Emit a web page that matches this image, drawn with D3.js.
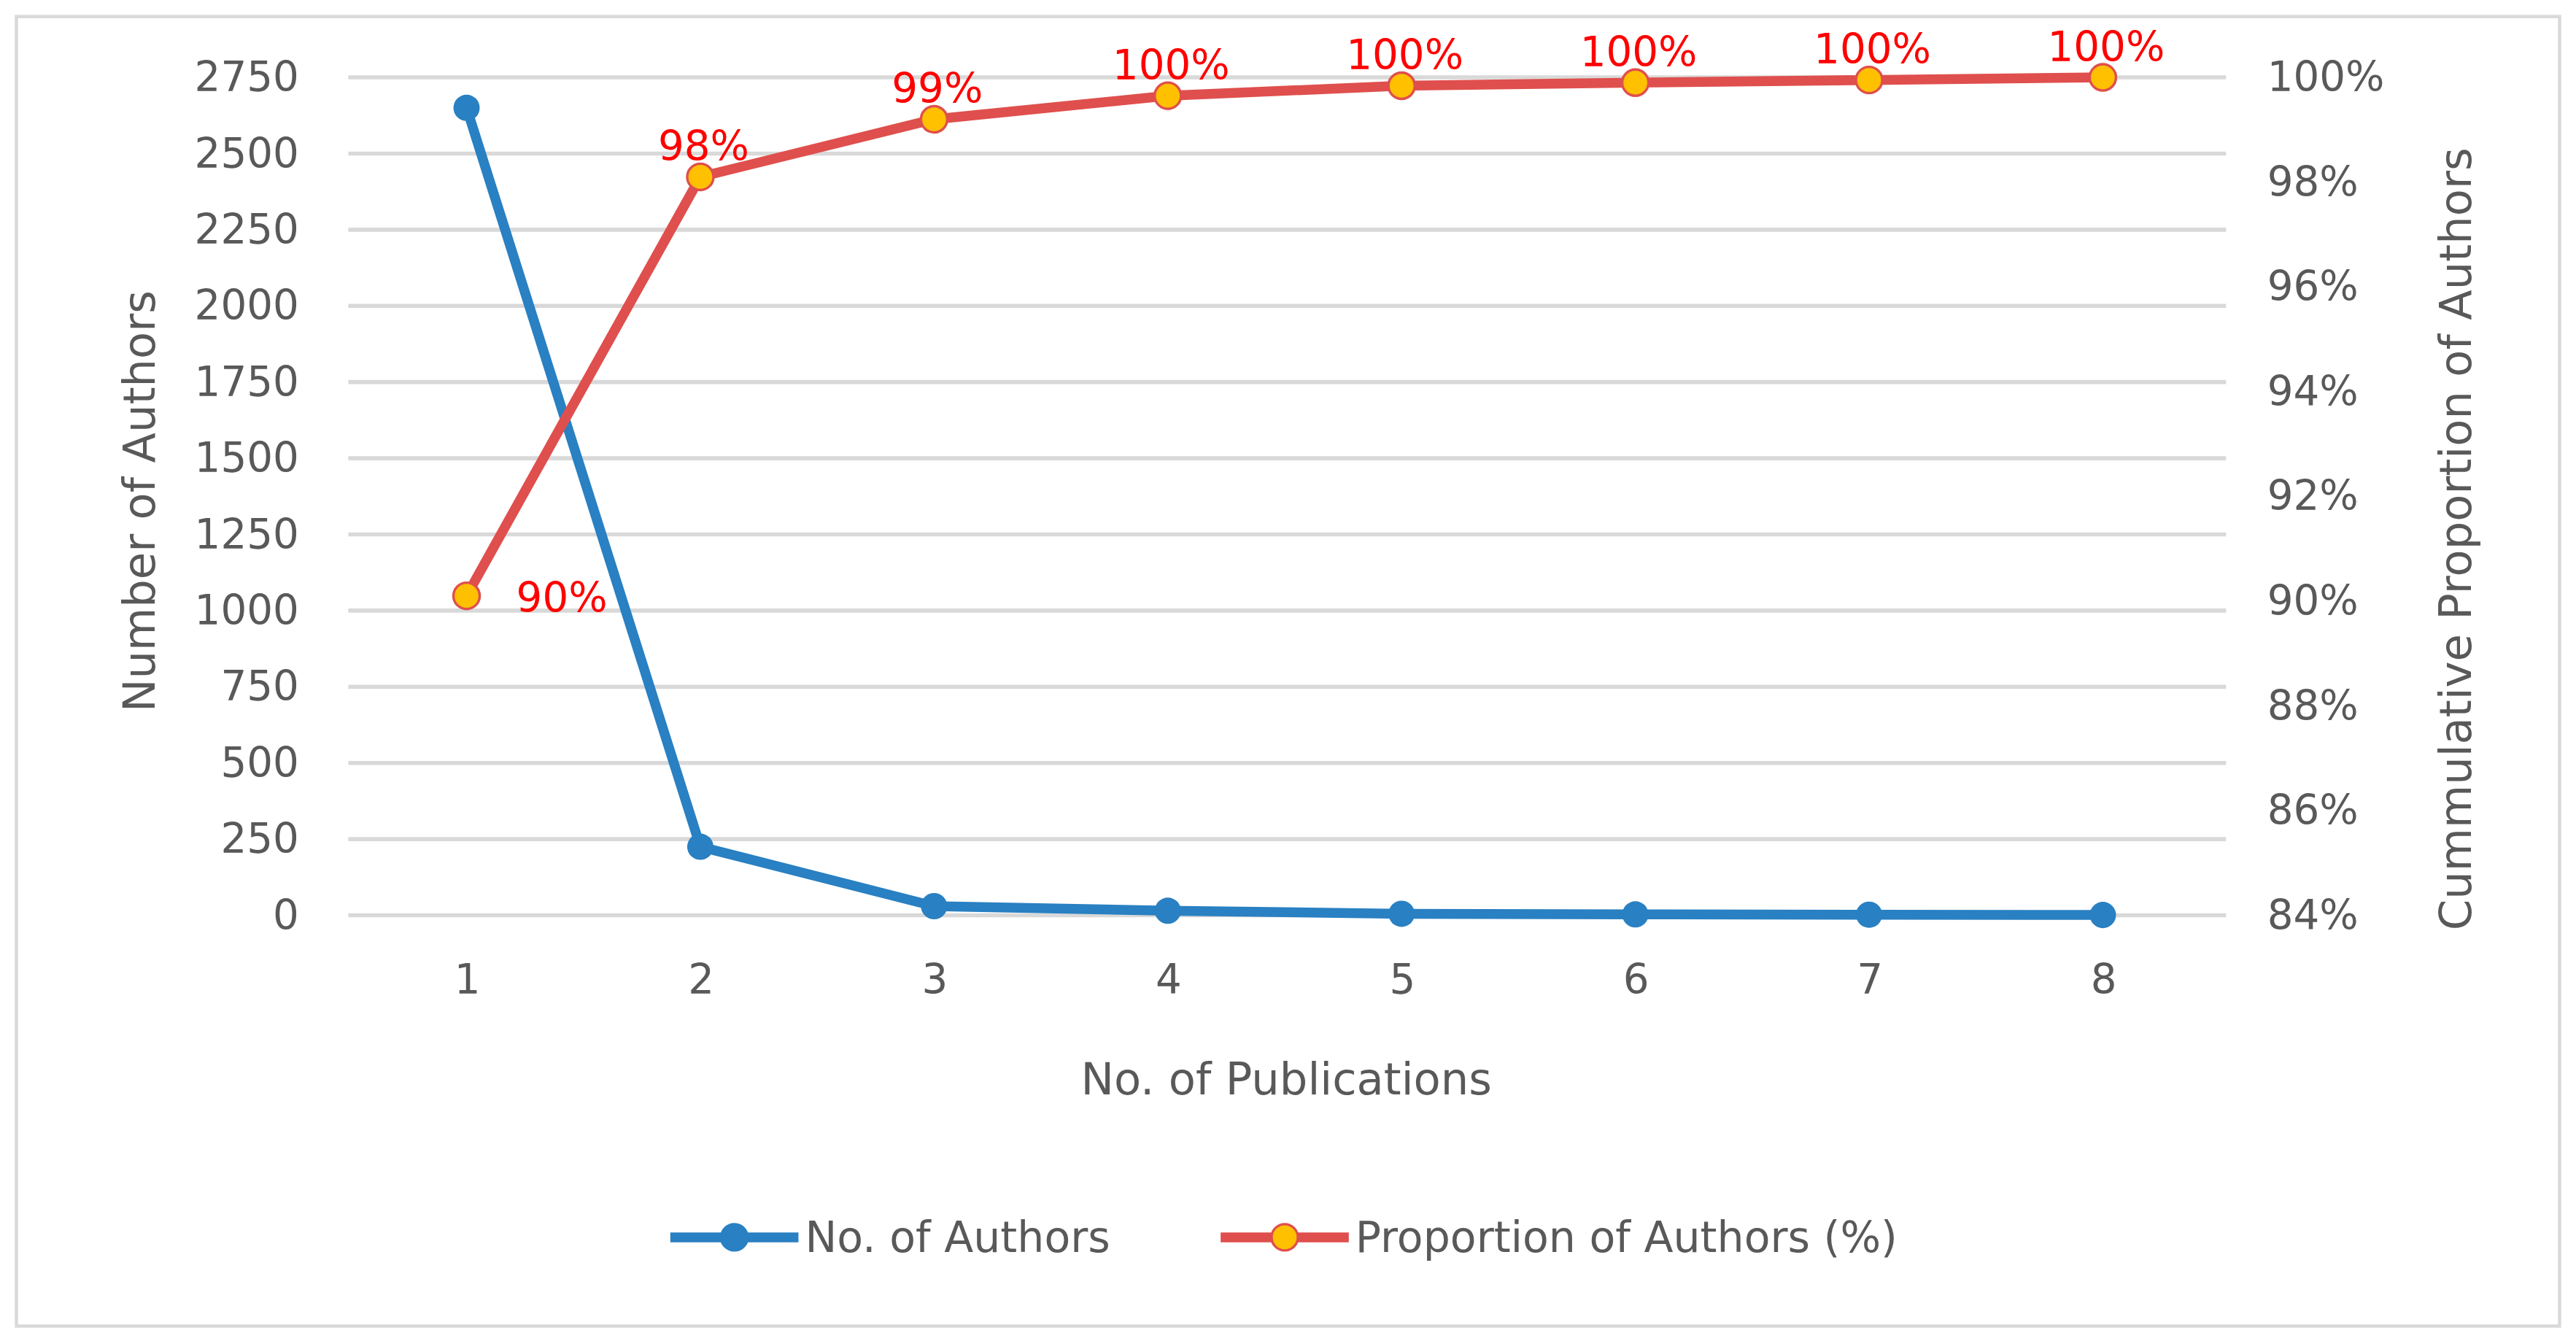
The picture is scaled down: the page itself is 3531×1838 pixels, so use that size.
<!DOCTYPE html>
<html><head><meta charset="utf-8">
<script src="https://cdn.jsdelivr.net/npm/d3@7"></script>
<style>body{margin:0;background:#fff}</style>
</head><body>
<svg id="chart" width="3531" height="1838" viewBox="0 0 1568 816"></svg>
<script>
// data
const publications = [1, 2, 3, 4, 5, 6, 7, 8];
const authors = [2650, 225, 30, 15, 5, 3, 2, 1];
const proportion = [90.1, 98.1, 99.2, 99.65, 99.84, 99.9, 99.95, 100];
const propLabels = ['90%', '98%', '99%', '100%', '100%', '100%', '100%', '100%'];
const leftTicks = [0, 250, 500, 750, 1000, 1250, 1500, 1750, 2000, 2250, 2500, 2750];
const rightTicks = [84, 86, 88, 90, 92, 94, 96, 98, 100];

const svg = d3.select('#chart');
const font = 'DejaVu Sans, sans-serif';
const grey = '#595959';

svg.append('rect').attr('x', 10).attr('y', 10).attr('width', 1548).attr('height', 797)
    .attr('fill', '#fff').attr('stroke', '#d9d9d9').attr('stroke-width', 2);

const x = d3.scalePoint().domain(publications).range([284, 1280]);
const yL = d3.scaleLinear().domain([0, 2750]).range([557, 47]);
const yR = d3.scaleLinear().domain([84, 100]).range([557, 47]);

svg.append('g').selectAll('line').data(leftTicks).join('line')
    .attr('x1', 212).attr('x2', 1355)
    .attr('y1', d => yL(d)).attr('y2', d => yL(d))
    .attr('stroke', '#d9d9d9').attr('stroke-width', 2.5);

const axL = svg.append('g').attr('transform', 'translate(182,0)')
    .call(d3.axisLeft(yL).tickValues(leftTicks).tickSize(0).tickPadding(0).tickFormat(d3.format('d')));
const axR = svg.append('g').attr('transform', 'translate(1380,0)')
    .call(d3.axisRight(yR).tickValues(rightTicks).tickSize(0).tickPadding(0).tickFormat(d => d + '%'));
const axB = svg.append('g').attr('transform', 'translate(0,586)')
    .call(d3.axisBottom(x).tickSize(0).tickPadding(0));
[axL, axR, axB].forEach(a => {
    a.select('.domain').remove();
    a.selectAll('text').attr('font-family', font).attr('font-size', 25).attr('fill', grey);
});
axB.selectAll('text').attr('dy', '0.75em');

svg.append('text').attr('x', 783).attr('y', 666).attr('text-anchor', 'middle')
    .attr('font-family', font).attr('font-size', 27).attr('fill', grey).text('No. of Publications');
svg.append('text').attr('transform', 'translate(94,305) rotate(-90)').attr('text-anchor', 'middle')
    .attr('font-family', font).attr('font-size', 27).attr('fill', grey).text('Number  of Authors');
svg.append('text').attr('transform', 'translate(1504,328) rotate(-90)').attr('text-anchor', 'middle')
    .attr('font-family', font).attr('font-size', 27).attr('fill', grey).text('Cummulative Proportion of Authors');

const blue = '#2980c2', red = '#df4f4d', orange = '#ffc000';

svg.append('path').datum(publications)
    .attr('d', d3.line().x(d => x(d)).y((d, i) => yL(authors[i])))
    .attr('fill', 'none').attr('stroke', blue).attr('stroke-width', 6);
svg.append('g').selectAll('circle').data(publications).join('circle')
    .attr('cx', d => x(d)).attr('cy', (d, i) => yL(authors[i])).attr('r', 8).attr('fill', blue);

svg.append('path').datum(publications)
    .attr('d', d3.line().x(d => x(d)).y((d, i) => yR(proportion[i])))
    .attr('fill', 'none').attr('stroke', red).attr('stroke-width', 6);
svg.append('g').selectAll('circle').data(publications).join('circle')
    .attr('cx', d => x(d)).attr('cy', (d, i) => yR(proportion[i])).attr('r', 8)
    .attr('fill', orange).attr('stroke', red).attr('stroke-width', 1.5);

svg.append('g').selectAll('text').data(publications).join('text')
    .attr('x', (d, i) => i === 0 ? x(d) + 58 : x(d) + 2)
    .attr('y', (d, i) => i === 0 ? yR(proportion[i]) + 10 : yR(proportion[i]) - 10)
    .attr('text-anchor', 'middle').attr('font-family', font).attr('font-size', 25)
    .attr('fill', '#ff0000').text((d, i) => propLabels[i]);

// legend
const legend = [{ name: 'No. of Authors', c: blue, f: blue, x: 408 }, { name: 'Proportion of Authors (%)', c: red, f: orange, x: 743 }];
const lg = svg.append('g').selectAll('g').data(legend).join('g').attr('transform', d => `translate(${d.x},753)`);
lg.append('line').attr('x1', 0).attr('x2', 78).attr('stroke', d => d.c).attr('stroke-width', 6);
lg.append('circle').attr('cx', 39).attr('r', 8).attr('fill', d => d.f).attr('stroke', d => d.c).attr('stroke-width', 1.5);
lg.append('text').attr('x', 82).attr('dy', '0.35em').attr('font-family', font).attr('font-size', 26)
    .attr('fill', grey).text(d => d.name);
</script>
</body></html>
